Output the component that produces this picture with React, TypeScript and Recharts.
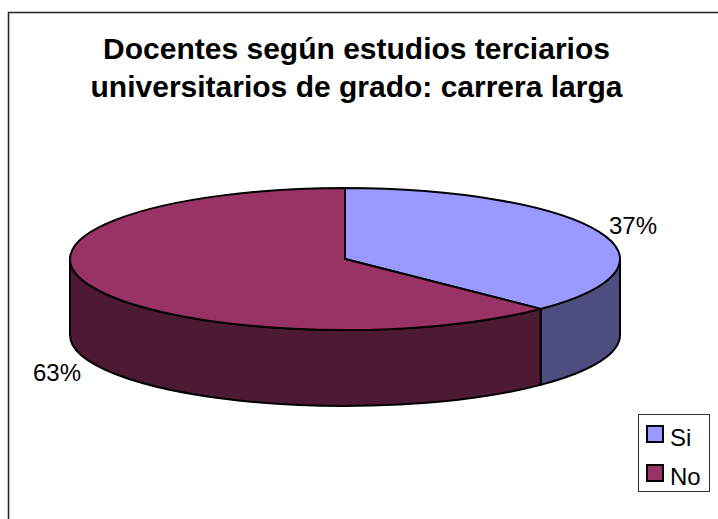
import { PieChart, Pie, Legend } from 'recharts';

const CATEGORIES = ['Si', 'No'];
// labels read 37% / 63%, the slice edge sits a little past 37
const VALUES = [37.4, 62.6];
const TOP_COLORS = ['#9999FF', '#993366'];
const SIDE_COLORS = ['#4D4D80', '#4D1A33'];
const TITLE_LINES = ['Docentes según estudios terciarios', 'universitarios de grado: carrera larga'];

const FONT = '"Liberation Sans", Arial, sans-serif';
const RX = 275;
const RY_RATIO = 71 / 275;
const DEPTH = 76;

const data = CATEGORIES.map((name, i) => ({
  name,
  value: VALUES[i],
  fill: TOP_COLORS[i],
  side: SIDE_COLORS[i],
}));

function pt(cx: number, cy: number, rx: number, ry: number, deg: number) {
  const rad = (deg * Math.PI) / 180;
  return { x: cx + rx * Math.cos(rad), y: cy - ry * Math.sin(rad) };
}

// Flattened 3D slice: side wall plus elliptical top face
function Slice3D(props: any) {
  const { cx, cy, outerRadius, startAngle, endAngle, fill, payload } = props;
  const rx = outerRadius;
  const ry = outerRadius * RY_RATIO;
  const a = pt(cx, cy, rx, ry, startAngle);
  const b = pt(cx, cy, rx, ry, endAngle);
  const large = Math.abs(startAngle - endAngle) > 180 ? 1 : 0;
  const top = `M${cx},${cy} L${a.x},${a.y} A${rx},${ry} 0 ${large} 1 ${b.x},${b.y} Z`;

  // only the part of the rim facing the viewer has a wall
  const s1 = Math.min(startAngle, 0);
  const s2 = Math.max(endAngle, -180);
  const p1 = pt(cx, cy, rx, ry, s1);
  const p2 = pt(cx, cy, rx, ry, s2);
  const wall = `M${p1.x},${p1.y} A${rx},${ry} 0 0 1 ${p2.x},${p2.y} L${p2.x},${p2.y + DEPTH} A${rx},${ry} 0 0 0 ${p1.x},${p1.y + DEPTH} Z`;

  return (
    <g stroke="#000" strokeWidth={2} strokeLinejoin="round">
      {s1 > s2 && <path d={wall} fill={payload.side} />}
      <path d={top} fill={fill} />
    </g>
  );
}

function renderLabel(props: any) {
  const { cx, cy, midAngle, percent, outerRadius } = props;
  const rx = outerRadius * 1.135;
  const ry = outerRadius * RY_RATIO * 1.14;
  const p = pt(cx, cy, rx, ry, midAngle);
  const below = Math.sin((midAngle * Math.PI) / 180) < 0;
  return (
    <text
      x={p.x}
      y={below ? p.y + DEPTH + 6 : p.y - 2}
      textAnchor="middle"
      dominantBaseline="central"
      fontFamily={FONT}
      fontSize={24}
      fill="#000"
    >
      {`${Math.round(percent * 100)}%`}
    </text>
  );
}

function LegendBox({ payload }: any) {
  return (
    <div
      style={{
        width: 72,
        height: 78,
        boxSizing: 'border-box',
        border: '1px solid #333',
        background: '#fff',
        fontFamily: FONT,
        fontSize: 24,
        color: '#000',
        position: 'relative',
      }}
    >
      {(payload || []).map((entry: any, i: number) => (
        <div key={entry.value}>
          <span
            style={{
              position: 'absolute',
              left: 7,
              top: 10 + i * 39,
              width: 18,
              height: 18,
              boxSizing: 'border-box',
              border: '2.5px solid #000',
              background: entry.color,
            }}
          />
          <span style={{ position: 'absolute', left: 31, top: 10 + i * 39, lineHeight: '26px' }}>{entry.value}</span>
        </div>
      ))}
    </div>
  );
}

export default function App() {
  return (
    <div style={{ position: 'absolute', left: 0, top: 0, width: 718, height: 519, overflow: 'hidden', background: '#fff' }}>
      <PieChart width={718} height={519} margin={{ top: 0, right: 0, bottom: 0, left: 0 }}>
        {/* frame only shows on the top and left, the rest is cut off */}
        <rect x={8.5} y={12.5} width={900} height={700} fill="none" stroke="#222" strokeWidth={1.5} />
        {TITLE_LINES.map((line, i) => (
          <text
            key={line}
            x={356.5}
            y={59 + i * 38}
            textAnchor="middle"
            fontFamily={FONT}
            fontWeight="bold"
            fontSize={30}
            fill="#000"
          >
            {line}
          </text>
        ))}
        <Pie
          data={data}
          dataKey="value"
          nameKey="name"
          cx={345}
          cy={259}
          innerRadius={0}
          outerRadius={RX}
          startAngle={90}
          endAngle={-270}
          stroke="#000"
          shape={Slice3D}
          label={renderLabel}
          labelLine={false}
          isAnimationActive={false}
        />
        <Legend
          content={<LegendBox />}
          itemSorter={null}
          wrapperStyle={{ position: 'absolute', left: 638, top: 414, width: 72, height: 78 }}
        />
      </PieChart>
    </div>
  );
}
